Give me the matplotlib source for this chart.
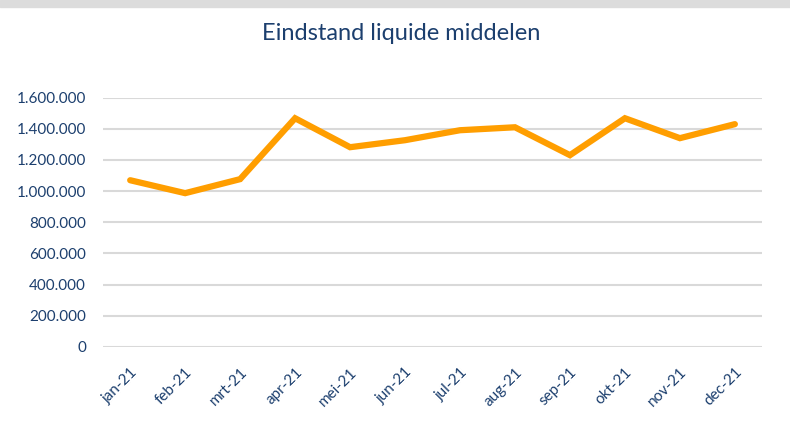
import numpy as np
import matplotlib.pyplot as plt
from matplotlib.ticker import FuncFormatter

months = ["jan-21", "feb-21", "mrt-21", "apr-21", "mei-21", "jun-21",
          "jul-21", "aug-21", "sep-21", "okt-21", "nov-21", "dec-21"]
liquide = [1070000, 987000, 1077000, 1468000, 1282000, 1327000,
           1391000, 1410000, 1231000, 1468000, 1340000, 1430000]
yticks = np.arange(0, 1600001, 200000)

blue = "#1c3f6e"
plt.rcParams['font.family'] = ['Lato', 'DejaVu Sans']

fig = plt.figure(figsize=(7.9, 4.21), dpi=100)
# grey strip at the top
fig.patches.append(plt.Rectangle((0, 0.983), 1, 0.017, transform=fig.transFigure,
                                 color="#dcdcdc", zorder=0))
ax = fig.add_axes([0.130, 0.176, 0.835, 0.592])

x = np.arange(len(months))
ax.plot(x, liquide, color="#ff9e00", lw=4.5, solid_capstyle='round',
        solid_joinstyle='miter', zorder=3)

ax.set_xlim(-0.5, len(months) - 0.5)
ax.set_ylim(0, 1600000)
ax.set_yticks(yticks)
ax.yaxis.set_major_formatter(FuncFormatter(lambda v, p: f"{int(v):,}".replace(",", ".")))
ax.grid(axis='y', color="#d9d9d9", lw=1.5)
ax.set_axisbelow(True)
for s in ax.spines.values():
    s.set_visible(False)

ax.set_xticks(x)
ax.set_xticklabels(months, rotation=45, ha='right', rotation_mode='anchor')
ax.tick_params(length=0, labelcolor=blue, labelsize=11)
ax.tick_params(axis='x', pad=13)
ax.tick_params(axis='y', pad=12)

fig.text(0.508, 0.92, "Eindstand liquide middelen", ha='center', va='center',
         fontsize=17, color=blue)

fig.savefig("out.png", dpi=100)
